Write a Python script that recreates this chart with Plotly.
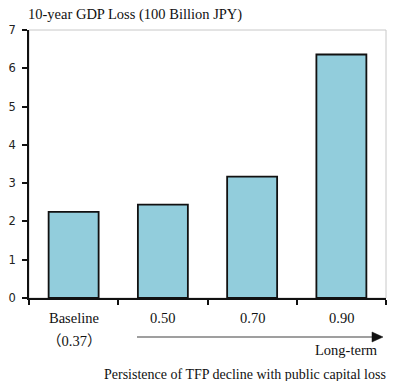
import plotly.graph_objects as go

# Categories and values (10-year GDP loss, 100 billion JPY)
categories = ["Baseline", "0.50", "0.70", "0.90"]
tick_lines = [["Baseline", "（0.37）"], ["0.50"], ["0.70"], ["0.90"]]
gdp_loss = [2.25, 2.44, 3.17, 6.36]
y_ticks = [0, 1, 2, 3, 4, 5, 6, 7]

serif = "Liberation Serif, Times New Roman, serif"
sans = "DejaVu Sans, Tahoma, sans-serif"
cjk = "Noto Sans CJK JP"

L, R, T, B = 29, 12, 30, 83
W, H = 398, 381
PW, PH = W - L - R, H - T - B


def px_x(px):
    return (px - L) / PW


def px_y(py):
    return (H - B - py) / PH


def with_wide_parens(txt):
    # full-width brackets are drawn from the CJK face
    for ch in "（）":
        txt = txt.replace(ch, f'<span style="font-family:{cjk}">{ch}</span>')
    return txt


fig = go.Figure()
fig.add_trace(go.Bar(
    x=categories,
    y=gdp_loss,
    width=0.56,
    marker=dict(color="#92CDDC", line=dict(color="#111111", width=1.8)),
    hoverinfo="skip",
))

# gray frame on top/right of plot area
fig.add_shape(type="rect", xref="paper", yref="paper", x0=0, y0=0, x1=1, y1=1,
              line=dict(color="#c8c8c8", width=1), layer="below")

# category labels below axis
for i, lines in enumerate(tick_lines):
    for j, txt in enumerate(lines):
        fig.add_annotation(x=i, xref="x", y=px_y(318 + 21 * j), yref="paper",
                           text=with_wide_parens(txt), showarrow=False, yanchor="middle",
                           font=dict(family=serif, size=14.5, color="#111111"))

# long-term arrow
ya = px_y(337)
dy = 5 / PH
fig.add_shape(type="line", xref="paper", yref="paper",
              x0=px_x(137), x1=px_x(374), y0=ya, y1=ya,
              line=dict(color="#7f7f7f", width=1.5))
fig.add_shape(type="path", xref="paper", yref="paper",
              path=f"M {px_x(372)} {ya+dy} L {px_x(383)} {ya} L {px_x(372)} {ya-dy} Z",
              fillcolor="#111111", line=dict(color="#111111", width=0.5))

fig.add_annotation(x=px_x(380), xref="paper", y=px_y(350), yref="paper",
                   text="Long-term", showarrow=False,
                   xanchor="right", yanchor="middle",
                   font=dict(family=serif, size=14.5, color="#111111"))
fig.add_annotation(x=px_x(245), xref="paper", y=px_y(374), yref="paper",
                   text="Persistence of TFP decline with public capital loss",
                   showarrow=False, xanchor="center", yanchor="middle",
                   font=dict(family=serif, size=14, color="#111111"))

# y-axis title placed above the plot
fig.add_annotation(x=px_x(26), xref="paper", y=px_y(15), yref="paper",
                   text="10-year GDP Loss (100 Billion JPY)",
                   showarrow=False, xanchor="left", yanchor="middle",
                   font=dict(family=serif, size=14.5, color="#111111"))

fig.update_layout(
    width=W, height=H,
    margin=dict(l=L, r=R, t=T, b=B, autoexpand=False),
    paper_bgcolor="white", plot_bgcolor="white",
    showlegend=False,
    xaxis=dict(
        type="category",
        showticklabels=False,
        showline=True, linecolor="#111111", linewidth=1.5,
        ticks="outside", ticklen=5, tickcolor="#111111", tickwidth=1.5,
        tickson="boundaries", showgrid=False, zeroline=False,
    ),
    yaxis=dict(
        range=[0, 7], tickvals=y_ticks,
        showline=True, linecolor="#111111", linewidth=1.5,
        ticks="outside", ticklen=5, tickcolor="#111111", tickwidth=1.5,
        showgrid=False, zeroline=False,
        tickfont=dict(family=sans, size=11.5, color="#222222"),
        ticklabelstandoff=4,
    ),
)

fig.write_html("out.html")
